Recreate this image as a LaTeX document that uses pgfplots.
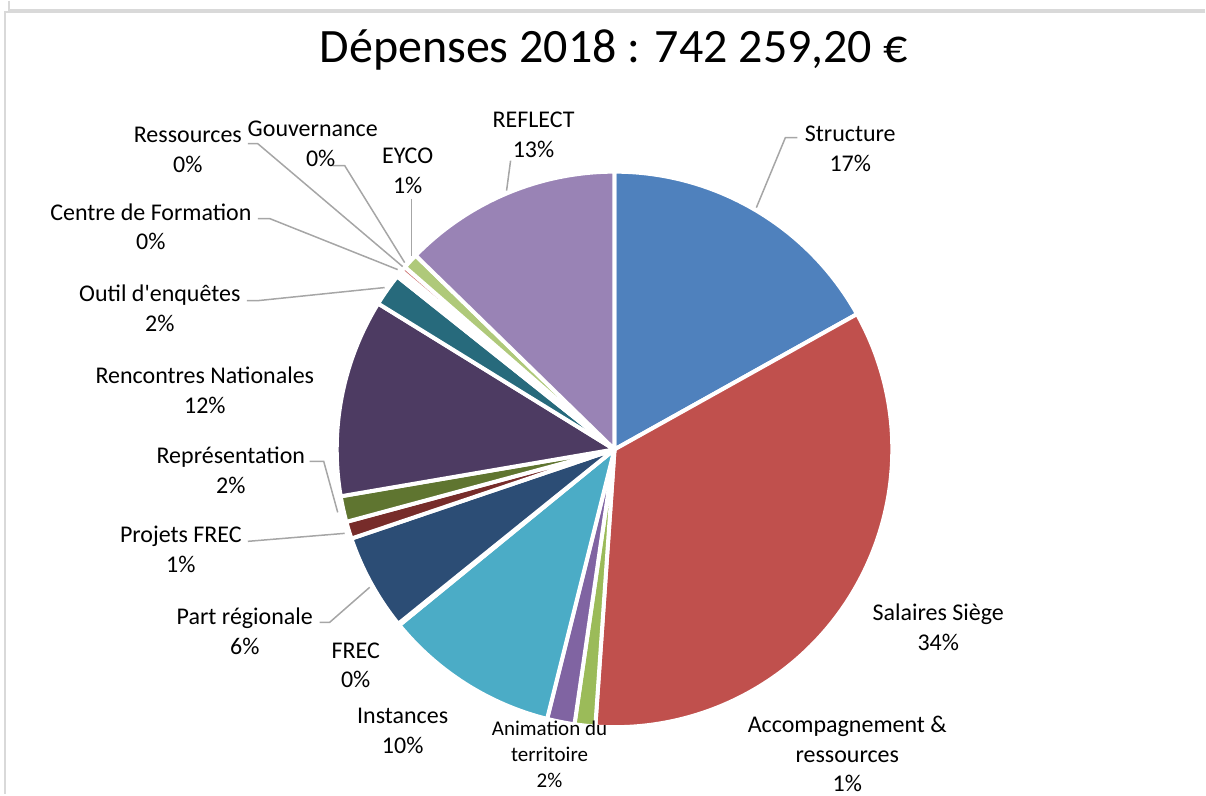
\documentclass[border=0pt]{standalone}
\usepackage{fontspec}
\setmainfont{Carlito}[Ligatures=TeXOff]
\usepackage{pgfplots}
\usepackage{pgfplotstable}
\pgfplotsset{compat=1.18}

% Office palette, one colour per slice
\definecolor{c0}{HTML}{4F81BD}
\definecolor{c1}{HTML}{C0504D}
\definecolor{c2}{HTML}{9BBB59}
\definecolor{c3}{HTML}{8064A2}
\definecolor{c4}{HTML}{4BACC6}
\definecolor{c5}{HTML}{F79646}
\definecolor{c6}{HTML}{2C4D75}
\definecolor{c7}{HTML}{772C2A}
\definecolor{c8}{HTML}{5F7530}
\definecolor{c9}{HTML}{4D3B62}
\definecolor{c10}{HTML}{276A7C}
\definecolor{c11}{HTML}{B65708}
\definecolor{c12}{HTML}{729ACA}
\definecolor{c13}{HTML}{CD7371}
\definecolor{c14}{HTML}{AFC97A}
\definecolor{c15}{HTML}{9983B5}
\definecolor{leader}{HTML}{A6A6A6}
\definecolor{frame}{HTML}{D9D9D9}

% shares in percent, clockwise from the top
% Structure, Salaires Siege, Accompagnement, Animation, Instances, FREC,
% Part regionale, Projets FREC, Representation, Rencontres, Outil,
% Centre de Formation, Ressources, Gouvernance, EYCO, REFLECT
\pgfplotstableread{
part
16.9
34.2
1.2
1.6
10.2
0.1
5.6
1.0
1.5
11.5
1.9
0.2
0.2
0.3
0.9
12.7
}\depenses

\newcommand\lab{\fontsize{12}{14.8}\selectfont}
\newcommand\labs{\fontsize{10.5}{13}\selectfont}

\begin{document}
\begin{tikzpicture}
% start and end angle of each slice
\xdef\cumangle{90}
\foreach \i in {0,...,15}{%
  \pgfplotstablegetelem{\i}{part}\of\depenses
  \pgfmathsetmacro\endangle{\cumangle-3.6*\pgfplotsretval}%
  \expandafter\xdef\csname sa\i\endcsname{\cumangle}%
  \expandafter\xdef\csname ea\i\endcsname{\endangle}%
  \xdef\cumangle{\endangle}%
}
\begin{axis}[
    x=0.5pt, y=0.5pt,
    xmin=0, xmax=1206, ymin=0, ymax=794,
    y dir=reverse,
    hide axis,
    clip=false,
  ]
  \path (axis cs:0,0) rectangle (axis cs:1206,794);
  % chart frame
  \draw[frame, line width=1pt] (axis cs:1206,11) -- (axis cs:5,11) -- (axis cs:5,794);
  \draw[frame, line width=0.8pt] (axis cs:9,0) -- (axis cs:9,9) -- (axis cs:1206,9);

  \pgfplotsinvokeforeach{0,...,15}{
    \fill[c#1, draw=white, line width=2pt, line join=round]
      (axis cs:615,449) -- ++(\csname sa#1\endcsname:139pt)
      arc[start angle=\csname sa#1\endcsname, end angle=\csname ea#1\endcsname, radius=139pt]
      -- cycle;
  }

  \node[font=\fontsize{24}{29}\selectfont] at (axis cs:614,49) {Dépenses 2018 : 742 259,20 €};

  % leader lines
  \begin{scope}[leader, line width=0.75pt]
    \draw (axis cs:798,137) -- (axis cs:786,137) -- (axis cs:757,207);
    \draw (axis cs:511,160) -- (axis cs:507,190);
    \draw (axis cs:412,198) -- (axis cs:412,255);
    \draw (axis cs:333,165) -- (axis cs:345,165) -- (axis cs:405,262);
    \draw (axis cs:248,143) -- (axis cs:258,143) -- (axis cs:403,266);
    \draw (axis cs:258,218) -- (axis cs:270,218) -- (axis cs:398,269);
    \draw (axis cs:247,300) -- (axis cs:259,300) -- (axis cs:385,287);
    \draw (axis cs:310,461) -- (axis cs:324,461) -- (axis cs:338,512);
    \draw (axis cs:248,541) -- (axis cs:345,533);
    \draw (axis cs:320,622) -- (axis cs:330,622) -- (axis cs:370,587);
  \end{scope}

  % slice labels
  \begin{scope}[every node/.style={align=center, inner sep=0pt}]
    \node[font=\lab] at (axis cs:851,148) {Structure\\17\%};
    \node[font=\lab] at (axis cs:939,627) {Salaires Siège\\34\%};
    \node[font=\lab] at (axis cs:848,754) {Accompagnement \&\\ressources\\1\%};
    \node[font=\labs] at (axis cs:550,754) {Animation du\\territoire\\2\%};
    \node[font=\lab] at (axis cs:403,731) {Instances\\10\%};
    \node[font=\lab] at (axis cs:356,665) {FREC\\0\%};
    \node[font=\lab] at (axis cs:245,631) {Part régionale\\6\%};
    \node[font=\lab] at (axis cs:181,549) {Projets FREC\\1\%};
    \node[font=\lab] at (axis cs:231,470) {Représentation\\2\%};
    \node[font=\lab] at (axis cs:205,390) {Rencontres Nationales\\12\%};
    \node[font=\lab] at (axis cs:160,308) {Outil d'enquêtes\\2\%};
    \node[font=\lab] at (axis cs:151,226) {Centre de Formation\\0\%};
    \node[font=\lab] at (axis cs:188,149) {Ressources\\0\%};
    \node[font=\lab] at (axis cs:313,143) {Gouvernance\\\hspace*{8pt}0\%};
    \node[font=\lab] at (axis cs:408,170) {EYCO\\1\%};
    \node[font=\lab] at (axis cs:534,134) {REFLECT\\13\%};
  \end{scope}
\end{axis}
\end{tikzpicture}
\end{document}
